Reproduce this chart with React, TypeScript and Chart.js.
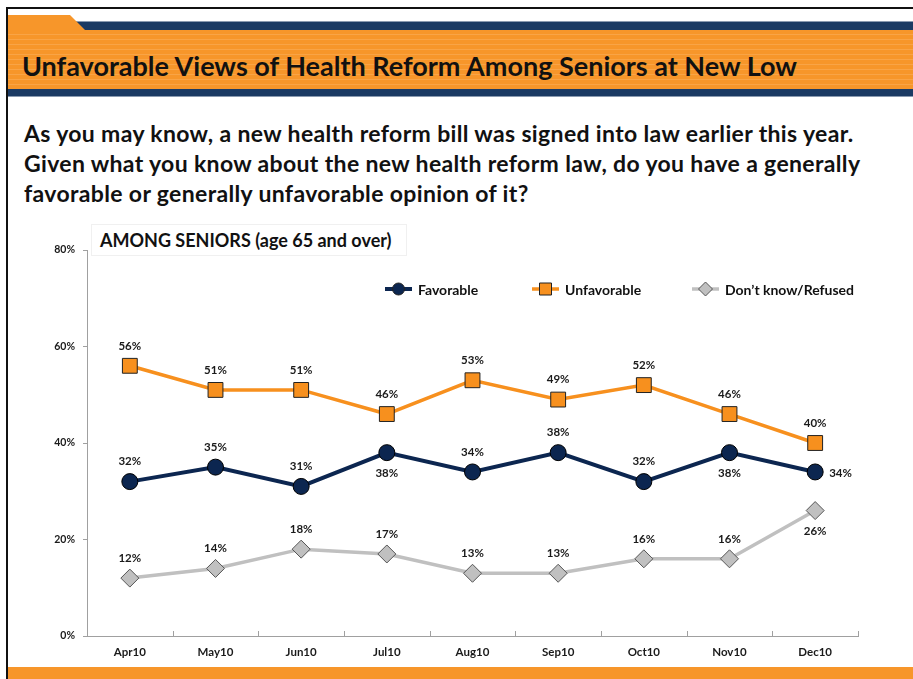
import React, { useEffect, useRef } from "react";
import { Chart, registerables } from "chart.js";

Chart.register(...registerables);

const TITLE = "Unfavorable Views of Health Reform Among Seniors at New Low";
const QUESTION_LINES = [
  "As you may know, a new health reform bill was signed into law earlier this year.",
  "Given what you know about the new health reform law, do you have a generally",
  "favorable or generally unfavorable opinion of it?",
];
const SUBTITLE = "AMONG SENIORS (age 65 and over)";

const months = ["Apr10", "May10", "Jun10", "Jul10", "Aug10", "Sep10", "Oct10", "Nov10", "Dec10"];
const favorable = [32, 35, 31, 38, 34, 38, 32, 38, 34];
const unfavorable = [56, 51, 51, 46, 53, 49, 52, 46, 40];
const dontKnow = [12, 14, 18, 17, 13, 13, 16, 16, 26];
// label position per point: a = above, b = below, r = right
const favorablePos = ["a", "a", "a", "b", "a", "a", "a", "b", "r"];
const unfavorablePos = ["a", "a", "a", "a", "a", "a", "a", "a", "a"];
const dontKnowPos = ["a", "a", "a", "a", "a", "a", "a", "a", "b"];
const yTicks = [0, 20, 40, 60, 80];

const FONT = "Lato, 'Open Sans', sans-serif";
const NAVY = "#0c2650";
const ORANGE = "#f7901e";
const GRAY = "#c0c0c0";

const labelPlugin = {
  id: "pointLabels",
  afterDatasetsDraw(chart: any) {
    const ctx = chart.ctx;
    const positions = [favorablePos, unfavorablePos, dontKnowPos];
    ctx.save();
    ctx.font = `bold 11.5px ${FONT}`;
    ctx.fillStyle = "#1a1a1a";
    ctx.textBaseline = "middle";
    chart.data.datasets.forEach((ds: any, i: number) => {
      const meta = chart.getDatasetMeta(i);
      meta.data.forEach((pt: any, j: number) => {
        const txt = ds.data[j] + "%";
        const p = positions[i][j];
        if (p === "a") {
          ctx.textAlign = "center";
          ctx.fillText(txt, pt.x, pt.y - 20);
        } else if (p === "b") {
          ctx.textAlign = "center";
          ctx.fillText(txt, pt.x, pt.y + 21);
        } else {
          ctx.textAlign = "left";
          ctx.fillText(txt, pt.x + 14, pt.y + 1);
        }
      });
    });
    ctx.restore();
  },
};

const decorPlugin = {
  id: "decor",
  afterDraw(chart: any) {
    const ctx = chart.ctx;
    const area = chart.chartArea;
    ctx.save();
    // x-axis tick marks (inside, between categories)
    ctx.strokeStyle = "#a0a0a0";
    ctx.lineWidth = 1;
    const n = months.length;
    const step = (area.right - area.left) / n;
    for (let k = 1; k <= n; k++) {
      const x = Math.round(area.left + step * k) + 0.5;
      ctx.beginPath();
      ctx.moveTo(x, area.bottom);
      ctx.lineTo(x, area.bottom - 5);
      ctx.stroke();
    }
    // legend
    const items = [
      { label: "Favorable", color: NAVY, style: "circle", lw: 4, x: 385 },
      { label: "Unfavorable", color: ORANGE, style: "rect", lw: 3.5, x: 532 },
      { label: "Don\u2019t know/Refused", color: GRAY, style: "rectRot", lw: 3.5, x: 692 },
    ];
    const ly = 74;
    ctx.font = `bold 14px ${FONT}`;
    ctx.textBaseline = "middle";
    ctx.textAlign = "left";
    items.forEach((it) => {
      ctx.strokeStyle = it.color;
      ctx.lineWidth = it.lw;
      ctx.beginPath();
      ctx.moveTo(it.x, ly);
      ctx.lineTo(it.x + 27, ly);
      ctx.stroke();
      const cx = it.x + 13.5;
      ctx.fillStyle = it.color;
      ctx.lineWidth = 1;
      ctx.strokeStyle = it.style === "rectRot" ? "#555" : "#222";
      ctx.beginPath();
      if (it.style === "circle") {
        ctx.arc(cx, ly, 6, 0, Math.PI * 2);
      } else if (it.style === "rect") {
        ctx.rect(cx - 6, ly - 6, 12, 12);
      } else {
        ctx.moveTo(cx, ly - 7);
        ctx.lineTo(cx + 7, ly);
        ctx.lineTo(cx, ly + 7);
        ctx.lineTo(cx - 7, ly);
        ctx.closePath();
      }
      ctx.fill();
      ctx.stroke();
      ctx.fillStyle = "#111";
      ctx.fillText(it.label, it.x + 33, ly + 1);
    });
    ctx.restore();
  },
};

export default function App() {
  const ref = useRef<HTMLCanvasElement | null>(null);

  useEffect(() => {
    document.body.style.margin = "0";
    const canvas = ref.current;
    if (!canvas) return;
    const chart = new Chart(canvas, {
      type: "line",
      data: {
        labels: months,
        datasets: [
          {
            label: "Favorable",
            data: favorable,
            borderColor: NAVY,
            backgroundColor: NAVY,
            borderWidth: 4,
            pointStyle: "circle",
            pointRadius: 8,
            pointBorderColor: "#000",
            pointBorderWidth: 1,
            tension: 0,
          },
          {
            label: "Unfavorable",
            data: unfavorable,
            borderColor: ORANGE,
            backgroundColor: ORANGE,
            borderWidth: 3.5,
            pointStyle: "rect",
            pointRadius: 10.5,
            pointBorderColor: "#222",
            pointBorderWidth: 1,
            tension: 0,
          },
          {
            label: "Don't know/Refused",
            data: dontKnow,
            borderColor: GRAY,
            backgroundColor: GRAY,
            borderWidth: 3.5,
            pointStyle: "rectRot",
            pointRadius: 9,
            pointBorderColor: "#555",
            pointBorderWidth: 1,
            tension: 0,
          },
        ],
      },
      options: {
        animation: false,
        responsive: false,
        maintainAspectRatio: false,
        layout: { padding: { top: 35, right: 55, left: 0, bottom: 0 } },
        plugins: {
          legend: { display: false },
          tooltip: { enabled: false },
          title: { display: false },
        },
        scales: {
          x: {
            offset: true,
            grid: { display: false, drawTicks: false },
            border: { display: true, color: "#a0a0a0", width: 1 },
            ticks: {
              font: { family: FONT, size: 11.5, weight: "bold" },
              color: "#1a1a1a",
              padding: 9,
            },
            afterFit(scale: any) {
              scale.height = 29;
            },
          },
          y: {
            min: 0,
            max: 80,
            afterBuildTicks(scale: any) {
              scale.ticks = yTicks.map((v) => ({ value: v }));
            },
            grid: { drawOnChartArea: false, drawTicks: true, tickLength: 4, color: "#a0a0a0" },
            border: { display: true, color: "#a0a0a0", width: 1 },
            ticks: {
              font: { family: FONT, size: 10.5, weight: "bold" },
              color: "#1a1a1a",
              padding: 8,
              callback: (v: any) => v + "%",
            },
            afterFit(scale: any) {
              scale.width = 87;
            },
          },
        },
      },
      plugins: [labelPlugin, decorPlugin],
    });
    return () => chart.destroy();
  }, []);

  const stripes =
    "repeating-linear-gradient(180deg, #f7962a 0px, #f7962a 4px, #f9a446 4px, #f9a446 5px)";

  return (
    <div style={{ position: "relative", width: 913, height: 679, overflow: "hidden", background: "#fff", fontFamily: FONT }}>
      {/* black frame */}
      <div style={{ position: "absolute", left: 6, top: 7, width: 907, height: 2, background: "#111" }} />
      <div style={{ position: "absolute", left: 6, top: 7, width: 2, height: 672, background: "#111" }} />
      {/* navy top band */}
      <div style={{ position: "absolute", left: 70, top: 22, width: 843, height: 8, background: "#1b3a63" }} />
      <div style={{ position: "absolute", left: 70, top: 21, width: 843, height: 1, background: "#8a9ab0" }} />
      {/* orange tab */}
      <div
        style={{
          position: "absolute",
          left: 8,
          top: 15,
          width: 80,
          height: 16,
          background: "#f7962a",
          clipPath: "polygon(0 0, 62px 0, 77px 15px, 77px 16px, 0 16px)",
        }}
      />
      {/* orange main band */}
      <div style={{ position: "absolute", left: 8, top: 30, width: 905, height: 59, background: stripes }} />
      {/* navy bottom band */}
      <div style={{ position: "absolute", left: 8, top: 89, width: 905, height: 7, background: "#1b3a63" }} />
      <div style={{ position: "absolute", left: 8, top: 96, width: 905, height: 1, background: "#8a9ab0" }} />
      {/* title */}
      <div
        style={{
          position: "absolute",
          left: 22,
          top: 50,
          fontSize: 27,
          fontWeight: 700,
          color: "#111",
          whiteSpace: "nowrap",
          lineHeight: "32px",
        }}
      >
        {TITLE}
      </div>
      {/* question */}
      <div
        style={{
          position: "absolute",
          left: 24,
          top: 118,
          fontSize: 23,
          letterSpacing: "0.35px",
          fontWeight: 700,
          color: "#111",
          whiteSpace: "nowrap",
          lineHeight: "30px",
        }}
      >
        {QUESTION_LINES.map((l, i) => (
          <div key={i}>{l}</div>
        ))}
      </div>
      {/* chart */}
      <canvas ref={ref} width={913} height={450} style={{ position: "absolute", left: 0, top: 215, width: 913, height: 450 }} />
      {/* subtitle */}
      <div
        style={{
          position: "absolute",
          left: 91,
          top: 224,
          width: 316,
          height: 32,
          border: "1px solid #f0f0f0",
          background: "#fff",
          boxSizing: "border-box",
        }}
      />
      <div
        style={{
          position: "absolute",
          left: 100,
          top: 228,
          fontSize: 18,
          fontWeight: 700,
          color: "#111",
          whiteSpace: "nowrap",
          lineHeight: "24px",
        }}
      >
        {SUBTITLE}
      </div>
      {/* bottom orange band */}
      <div style={{ position: "absolute", left: 8, top: 667, width: 905, height: 12, background: "#f7962a" }} />
    </div>
  );
}
